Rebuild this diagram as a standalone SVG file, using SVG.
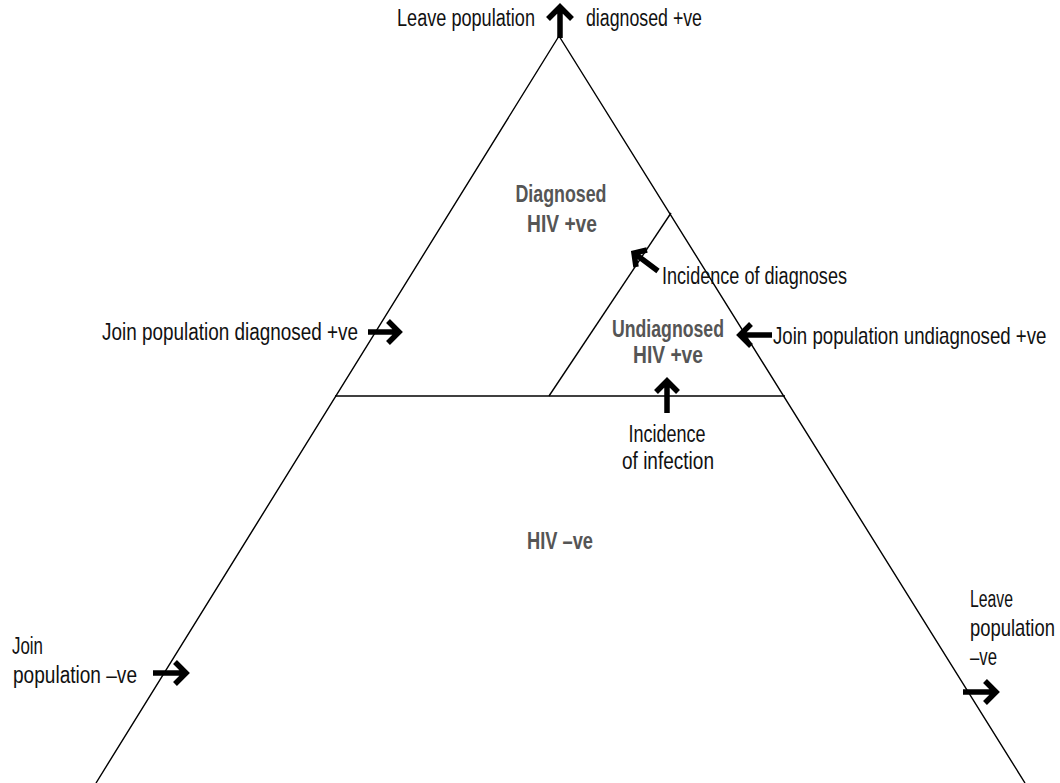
<svg xmlns="http://www.w3.org/2000/svg" width="1060" height="783" viewBox="0 0 1060 783">
<style>
.ln{fill:none;stroke:#000;stroke-width:1.4}
.arr{fill:none;stroke:#000;stroke-width:5.5;stroke-linejoin:miter;stroke-miterlimit:10}
.t{font-family:"Liberation Sans",Arial,sans-serif;font-size:23px;fill:#111}
.g{font-family:"Liberation Sans",Arial,sans-serif;font-size:24px;font-weight:bold;fill:#555;text-anchor:middle}
.m{text-anchor:middle}
</style>
<rect width="1060" height="783" fill="#fff"/>
<g id="triangle">
<path class="ln" d="M96,783 L559,36 L1025,783"/>
<path class="ln" d="M335,396 L785,396"/>
<path class="ln" d="M549,396 L671,213"/>
</g>
<g id="diagnosed"><text class="g" x="561" y="202" textLength="91" lengthAdjust="spacingAndGlyphs">Diagnosed</text><text class="g" x="562" y="232" textLength="70" lengthAdjust="spacingAndGlyphs">HIV +ve</text></g>
<g id="undiagnosed"><text class="g" x="668" y="337" textLength="112" lengthAdjust="spacingAndGlyphs">Undiagnosed</text><text class="g" x="668" y="363" textLength="70" lengthAdjust="spacingAndGlyphs">HIV +ve</text></g>
<g id="negative"><text class="g" x="560" y="549" textLength="66" lengthAdjust="spacingAndGlyphs">HIV –ve</text></g>
<g id="labels">
<text class="t" x="397" y="26" textLength="138" lengthAdjust="spacingAndGlyphs">Leave population</text>
<text class="t" x="586" y="26" textLength="116" lengthAdjust="spacingAndGlyphs">diagnosed +ve</text>
<text class="t" x="662" y="284" textLength="185" lengthAdjust="spacingAndGlyphs">Incidence of diagnoses</text>
<text class="t" x="102" y="340" textLength="256" lengthAdjust="spacingAndGlyphs">Join population diagnosed +ve</text>
<text class="t" transform="translate(773,344) scale(0.812,1)" x="0" y="0">Join population undiagnosed +ve</text>
<text class="t m" x="667" y="442" textLength="77" lengthAdjust="spacingAndGlyphs">Incidence</text>
<text class="t m" x="668" y="469" textLength="92" lengthAdjust="spacingAndGlyphs">of infection</text>
<text class="t" x="12" y="654" textLength="31" lengthAdjust="spacingAndGlyphs">Join</text>
<text class="t" x="13" y="683" textLength="124" lengthAdjust="spacingAndGlyphs">population –ve</text>
<text class="t" x="970" y="607" textLength="43" lengthAdjust="spacingAndGlyphs">Leave</text>
<text class="t" transform="translate(970,636) scale(0.8,1)" x="0" y="0">population</text>
<text class="t" x="970" y="665" textLength="27" lengthAdjust="spacingAndGlyphs">–ve</text>
</g>
<g id="connectors">
<path class="arr" d="M560,38 L560,7 M548,19 L560,7 L572,19"/>
<path class="arr" d="M368,332 L399,332 M388,321 L399,332 L388,343"/>
<path class="arr" d="M658,271 L634,253 M647,250 L634,253 L636,267"/>
<path class="arr" d="M772,335 L740,335 M751,324 L740,335 L751,346"/>
<path class="arr" d="M667,413 L667,381 M656,392 L667,381 L678,392"/>
<path class="arr" d="M153,673 L186,673 M175,662 L186,673 L175,684"/>
<path class="arr" d="M963,692 L996,692 M985,681 L996,692 L985,703"/>
</g>
</svg>
